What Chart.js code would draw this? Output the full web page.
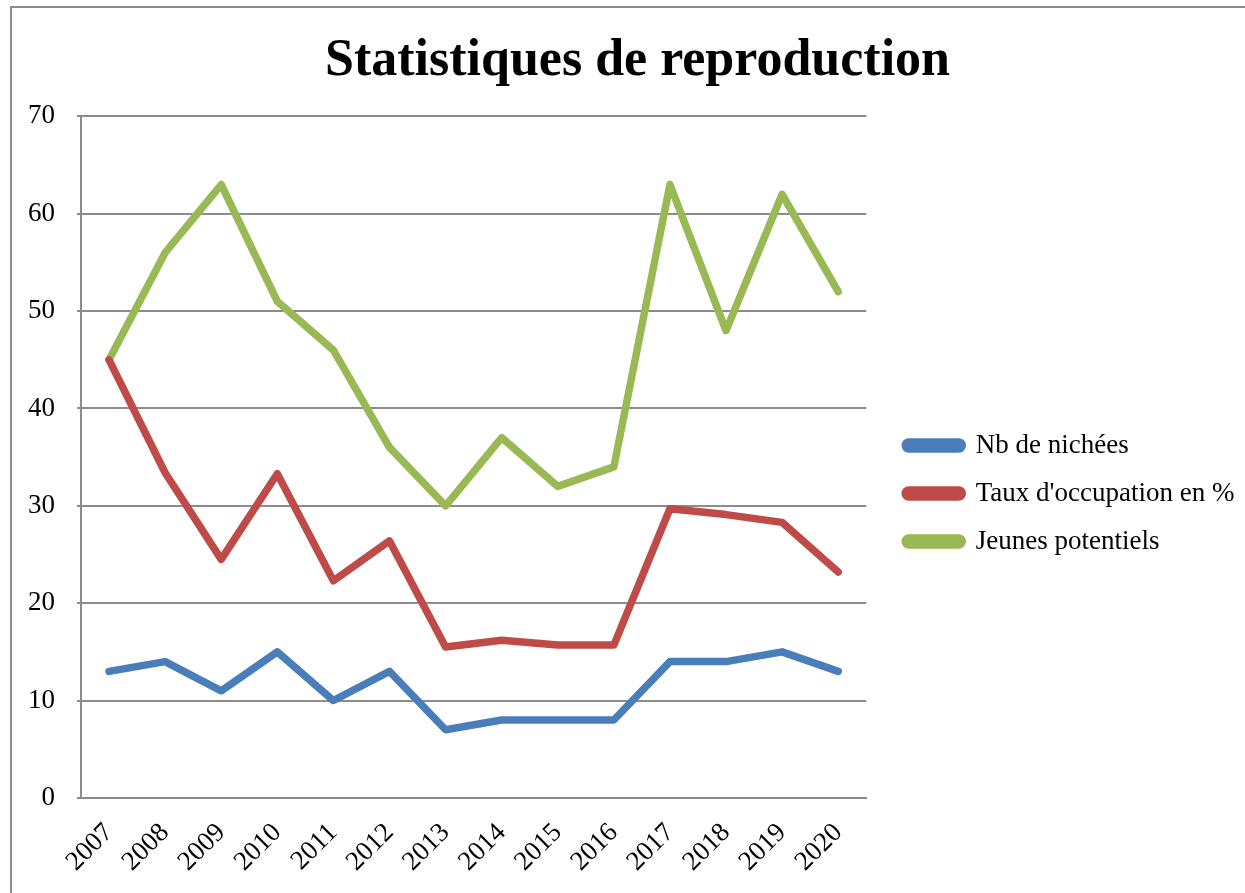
<!DOCTYPE html>
<html>
<head>
<meta charset="utf-8">
<script src="https://cdn.jsdelivr.net/npm/chart.js@4/dist/chart.umd.min.js"></script>
<style>
  html, body { margin: 0; padding: 0; background: #fff; overflow: hidden; }
  #frame { position: absolute; left: 10px; top: 6px; width: 1300px; height: 950px;
           border-top: 2px solid #8c8c8c; border-left: 2px solid #8c8c8c; }
  #chart { position: absolute; left: 0; top: 0; }
</style>
</head>
<body>
<div id="frame"></div>
<canvas id="chart" width="1275" height="893"></canvas>
<script>
// Statistiques de reproduction 2007-2020
const years = ["2007", "2008", "2009", "2010", "2011", "2012", "2013",
               "2014", "2015", "2016", "2017", "2018", "2019", "2020"];
const nichees = [13, 14, 11, 15, 10, 13, 7, 8, 8, 8, 14, 14, 15, 13];
const tauxOccupation = [45, 33.4, 24.5, 33.3, 22.3, 26.4, 15.5, 16.2, 15.7, 15.7, 29.7, 29.1, 28.3, 23.2];
const jeunes = [45, 56, 63, 51, 46, 36, 30, 37, 32, 34, 63, 48, 62, 52];
const seriesNames = ["Nb de nichées", "Taux d'occupation en %", "Jeunes potentiels"];
const seriesColors = ["#4a7ebb", "#be4b48", "#98b954"];

const serif = "'Liberation Serif', 'DejaVu Serif', serif";
const gridColor = "#8c8c8c";

function makeDataset(i, values) {
    return {
        label: seriesNames[i],
        data: values,
        borderColor: seriesColors[i],
        backgroundColor: seriesColors[i],
        borderWidth: 7.5,
        borderCapStyle: "round",
        borderJoinStyle: "round",
        pointRadius: 0,
        pointHoverRadius: 0,
        tension: 0,
        fill: false
    };
}

// excel puts the legend lower/further right and centres the title on the whole frame
const placeBlocks = {
    id: "placeBlocks",
    afterLayout(chart) {
        const lg = chart.legend;
        lg.left += 18;
        lg.right = chart.width;
        lg.width = lg.right - lg.left;
        lg.top += 36;
        lg.bottom += 36;
        const tb = chart.titleBlock;
        const shift = chart.width / 2 - (tb.left + tb.right) / 2;
        tb.left += shift;
        tb.right += shift;
    }
};

const canvasEl = document.getElementById("chart");
const myChart = new Chart(canvasEl, {
    type: "line",
    data: {
        labels: years,
        datasets: [
            makeDataset(0, nichees),
            makeDataset(1, tauxOccupation),
            makeDataset(2, jeunes)
        ]
    },
    options: {
        responsive: false,
        animation: false,
        layout: {
            padding: { left: 6, right: 122, top: 18, bottom: -4 }
        },
        plugins: {
            title: {
                display: true,
                text: "Statistiques de reproduction",
                color: "#000",
                font: { family: serif, size: 52, weight: "bold" },
                padding: { top: 12, bottom: 24 }
            },
            legend: {
                position: "right",
                labels: {
                    color: "#000",
                    font: { family: serif, size: 27 },
                    boxWidth: 57,
                    boxHeight: 7,
                    useBorderRadius: true,
                    borderRadius: 3.5,
                    padding: 21
                }
            },
            tooltip: { enabled: false }
        },
        scales: {
            x: {
                offset: true,
                grid: { display: false, drawTicks: false },
                border: { display: true, color: gridColor, width: 2 },
                ticks: {
                    color: "#000",
                    font: { family: serif, size: 27 },
                    maxRotation: 45,
                    minRotation: 45,
                    padding: 19
                }
            },
            y: {
                min: 0,
                max: 70,
                grid: { color: gridColor, lineWidth: 2, tickLength: 4 },
                border: { display: true, color: gridColor, width: 2 },
                ticks: {
                    stepSize: 10,
                    color: "#000",
                    font: { family: serif, size: 27 },
                    padding: 22
                }
            }
        }
    },
    plugins: [placeBlocks]
});
</script>
</body>
</html>
